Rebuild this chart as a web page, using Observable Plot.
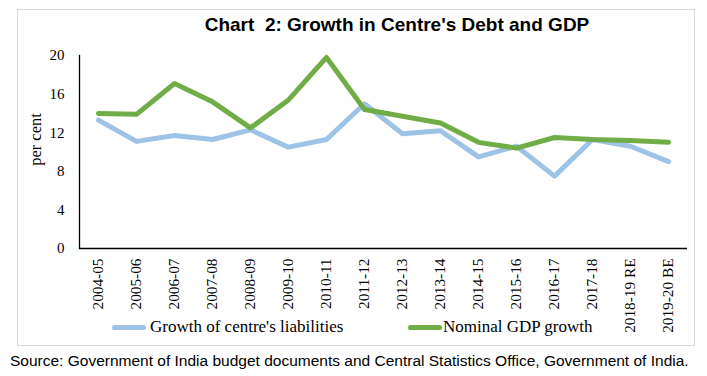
<!DOCTYPE html>
<html>
<head>
<meta charset="utf-8">
<script src="https://cdn.jsdelivr.net/npm/d3@7"></script>
<script src="https://cdn.jsdelivr.net/npm/@observablehq/plot@0.6"></script>
<style>
  html, body { margin: 0; padding: 0; background: #fff; }
  #page { position: relative; width: 707px; height: 376px; overflow: hidden; }
  #box { position: absolute; left: 17px; top: 9px; width: 678px; height: 337px; border: 1px solid #d9d9d9; box-sizing: border-box; }
  #title { position: absolute; left: 187px; top: 14px; width: 420px; text-align: center; font: bold 19px "Liberation Sans", Arial, sans-serif; color: #000; white-space: nowrap; }
  #chart { position: absolute; left: 0; top: 40px; }
  .leg { position: absolute; top: 317px; font: 17px "Liberation Serif", "Times New Roman", serif; color: #000; white-space: nowrap; }
  .sw { display: inline-block; width: 34px; height: 5px; border-radius: 3px; vertical-align: middle; margin-right: 4px; position: relative; top: -1px; }
  #source { position: absolute; left: 10px; top: 352px; font: 15.5px "Liberation Sans", Arial, sans-serif; color: #000; white-space: nowrap; }
</style>
</head>
<body>
<div id="page">
  <div id="box"></div>
  <div id="title">Chart&nbsp; 2: Growth in Centre's Debt and GDP</div>
  <div id="chart"></div>
  <div class="leg" style="left:112px"><span class="sw" style="background:#9DC3E6"></span>Growth of centre's liabilities</div>
  <div class="leg" style="left:408px"><span class="sw" style="background:#70AD47;margin-right:1px"></span>Nominal GDP growth</div>
  <div id="source">Source: Government of India budget documents and Central Statistics Office, Government of India.</div>
</div>
<script>
const categories = ["2004-05","2005-06","2006-07","2007-08","2008-09","2009-10","2010-11","2011-12","2012-13","2013-14","2014-15","2015-16","2016-17","2017-18","2018-19 RE","2019-20 BE"];
const liabilities = [13.3,11.1,11.7,11.3,12.3,10.5,11.3,15.0,11.9,12.2,9.5,10.6,7.5,11.3,10.6,9.0];
const gdp = [14.0,13.9,17.1,15.2,12.5,15.4,19.8,14.4,13.7,13.0,11.0,10.4,11.5,11.3,11.2,11.0];
const yTicks = [0,4,8,12,16,20];
const yLabel = "per cent";

const rows = [];
categories.forEach((c, i) => {
  rows.push({cat: c, series: "Growth of centre's liabilities", value: liabilities[i]});
});
categories.forEach((c, i) => {
  rows.push({cat: c, series: "Nominal GDP growth", value: gdp[i]});
});

const chart = Plot.plot({
  width: 707,
  height: 305,
  marginTop: 15,
  marginBottom: 97,
  marginLeft: 79,
  marginRight: 20,
  style: {fontFamily: "'Liberation Serif', 'Times New Roman', serif", fontSize: "15px", color: "#000", background: "transparent"},
  x: {type: "point", domain: categories, padding: 0.5},
  y: {domain: [0, 20]},
  color: {domain: ["Growth of centre's liabilities", "Nominal GDP growth"], range: ["#9DC3E6", "#70AD47"]},
  marks: [
    Plot.axisX({tickSize: 0, tickPadding: 10, tickRotate: -90, label: null, fontSize: 15.3}),
    Plot.axisY({ticks: yTicks, tickSize: 0, tickPadding: 15, label: null, fontSize: 15}),
    Plot.text([yLabel], {text: d => d, frameAnchor: "left", textAnchor: "middle", rotate: -90, dx: -44, dy: -12.5, fontSize: 16.5, fill: "#000"}),
    Plot.frame({anchor: "left", stroke: "#000", strokeWidth: 1.3}),
    Plot.ruleY([0], {stroke: "#000", strokeWidth: 1.3}),
    Plot.lineY(rows, {x: "cat", y: "value", z: "series", stroke: "series", strokeWidth: 5, strokeLinecap: "round", strokeLinejoin: "round"})
  ]
});
document.getElementById("chart").appendChild(chart);
</script>
</body>
</html>
